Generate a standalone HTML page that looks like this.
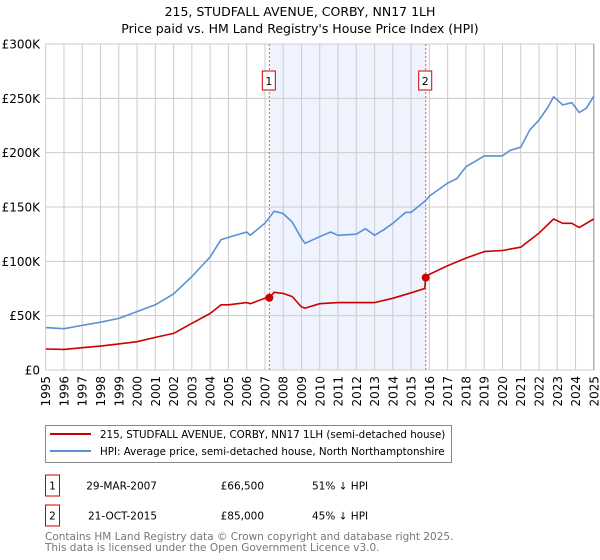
<!DOCTYPE html>
<html><head><meta charset="utf-8"><style>
body{margin:0;background:#fff;font-family:"Liberation Sans","DejaVu Sans",sans-serif;}
#wrap{position:relative;width:600px;height:560px;overflow:hidden;}
svg text{font-family:"DejaVu Sans","Liberation Sans",sans-serif;}
</style></head><body>
<div id="wrap">
<svg id="chart" width="600" height="560"></svg>
</div>
<script>
const yearTicks=[1995,1996,1997,1998,1999,2000,2001,2002,2003,2004,2005,2006,2007,2008,2009,2010,2011,2012,2013,2014,2015,2016,2017,2018,2019,2020,2021,2022,2023,2024,2025];
const valueTicks=[0,50,100,150,200,250,300];
const valueTickLabels=["£0","£50K","£100K","£150K","£200K","£250K","£300K"];
const hpiYears=[1995,1996,1997,1998,1999,2000,2001,2002,2003,2004,2004.6,2005,2006,2006.2,2007,2007.5,2008,2008.5,2009,2009.2,2010,2010.6,2011,2012,2012.5,2013,2013.5,2014,2014.7,2015,2015.8,2016,2017,2017.5,2018,2018.6,2019,2020,2020.4,2021,2021.5,2022,2022.5,2022.8,2023.3,2023.8,2024.2,2024.6,2025];
const hpiValues=[39,38,41,44,47.5,53.7,60,70,86,104,120,122,127,124,135,146,144,136,121,116.6,122.7,127,124,125,130,124,129,135,145,145,156,160,172,176,187,193,197,197,202,205,221,230,242,251.5,244,246,237,241,252];
const priceYears=[1995,1996,1997,1998,1999,2000,2001,2002,2003,2004,2004.6,2005,2006,2006.2,2007,2007.24,2007.5,2008,2008.5,2009,2009.2,2010,2011,2012,2013,2014,2015,2015.75,2015.8,2016,2017,2018,2019,2020,2021,2022,2022.8,2023.3,2023.8,2024.2,2025];
const priceValues=[19.3,19,20.5,22,24,26,30,33.7,43,52,60,60,62,61,66,66.5,71.5,70.5,67.5,58,57,61,62,62,62,66,71,75,85,88,96,103,109,110,113,126,139,135,135,131,139];
const saleYears=[2007.24,2015.8];
const saleValues=[66.5,85];
const saleLabels=["1","2"];

const NS="http://www.w3.org/2000/svg";
const svg=document.getElementById('chart');
const X0=45.7,X1=593.8,Y0=370,Y1=44;
const xs=y=>X0+(y-1995)/30*(X1-X0);
const ys=v=>Y0-v/300*(Y0-Y1);
function mk(tag,attrs,parent){const e=document.createElementNS(NS,tag);for(const k in attrs)e.setAttribute(k,attrs[k]);(parent||svg).appendChild(e);return e;}

let t=mk('text',{x:300,y:16,'text-anchor':'middle','font-size':12.5,fill:'#000'});t.textContent="215, STUDFALL AVENUE, CORBY, NN17 1LH";


t=mk('text',{x:300,y:33,'text-anchor':'middle','font-size':12.5,fill:'#000'});t.textContent="Price paid vs. HM Land Registry's House Price Index (HPI)";



let sh=mk('rect',{x:xs(saleYears[0]),y:Y1,width:xs(saleYears[1])-xs(saleYears[0]),height:Y0-Y1,fill:'#eef3fd'});



yearTicks.forEach(yr=>{
  const l=mk('line',{x1:xs(yr),x2:xs(yr),y1:Y1,y2:Y0,stroke:'#cccccc','stroke-width':1});
  
  
  const tx=mk('text',{transform:`translate(${xs(yr)+4.5},${Y0+6}) rotate(-90)`,'text-anchor':'end','font-size':12,fill:'#000'});
  tx.textContent=yr;
  
  
});
valueTicks.forEach((v,i)=>{
  const l=mk('line',{x1:X0,x2:X1,y1:ys(v),y2:ys(v),stroke:'#cccccc','stroke-width':1});
  
  
  const tx=mk('text',{x:40,y:ys(v)+4.5,'text-anchor':'end','font-size':12,fill:'#000'});
  tx.textContent=valueTickLabels[i];
  
  
});
let ra=mk('line',{x1:X1,x2:X1,y1:Y1,y2:Y0,stroke:'#999','stroke-width':1});



saleYears.forEach((yr,i)=>{
  const l=mk('line',{x1:xs(yr),x2:xs(yr),y1:Y1,y2:Y0,stroke:'#e06060','stroke-width':1,'stroke-dasharray':'2,2'});
  
  
  const b=mk('rect',{x:xs(yr)-7,y:71,width:13,height:19,fill:'#fff',stroke:'#cc0000','stroke-width':1});
  
  
  const tx=mk('text',{x:xs(yr)-0.5,y:85,'text-anchor':'middle','font-size':11,fill:'#000'});
  tx.textContent=saleLabels[i];
  
  
});

function line(xsA,vsA,color,name){
  const d=xsA.map((x,i)=>(i?'L':'M')+xs(x).toFixed(1)+','+ys(vsA[i]).toFixed(1)).join('');
  const p=mk('path',{d:d,fill:'none',stroke:color,'stroke-width':1.6,'stroke-linejoin':'round'});
  
  
}
line(hpiYears,hpiValues,'#5b8fd6','hpi-line');
line(priceYears,priceValues,'#cc0000','price-paid-line');
saleYears.forEach((yr,i)=>{
  const c=mk('circle',{cx:xs(yr),cy:ys(saleValues[i]),r:4,fill:'#cc0000'});
  
  
});

// legend
let lg=mk('rect',{x:45.5,y:425.5,width:406,height:37,fill:'#fff',stroke:'#888','stroke-width':1});


[['#cc0000',434,'215, STUDFALL AVENUE, CORBY, NN17 1LH (semi-detached house)','legend-entry-price'],['#5b8fd6',451,'HPI: Average price, semi-detached house, North Northamptonshire','legend-entry-hpi']].forEach(a=>{
  const l=mk('line',{x1:50,x2:91,y1:a[1],y2:a[1],stroke:a[0],'stroke-width':2});
  
  
  const tx=mk('text',{x:100,y:a[1]+4,'font-size':10.3,fill:'#000'});
  tx.textContent=a[2];
  
  
});
// table
[['1','29-MAR-2007','£66,500','51% ↓ HPI',485.5],['2','21-OCT-2015','£85,000','45% ↓ HPI',515.5]].forEach(r=>{
  const b=mk('rect',{x:45.5,y:r[4]-10.5,width:14,height:21,fill:'#fff',stroke:'#cc0000','stroke-width':1});
  
  
  const cells=[[52.5,'middle',r[0]],[157,'end',r[1]],[264,'end',r[2]],[312,'start',r[3]]];
  cells.forEach(c=>{
    const tx=mk('text',{x:c[0],y:r[4]+4,'text-anchor':c[1],'font-size':10.5,fill:'#000'});
    tx.textContent=c[2];
    
    
  });
});
t=mk('text',{x:45,y:540,'font-size':10.5,fill:'#777'});t.textContent="Contains HM Land Registry data © Crown copyright and database right 2025.";


t=mk('text',{x:45,y:551,'font-size':10.5,fill:'#777'});t.textContent="This data is licensed under the Open Government Licence v3.0.";


</script>
</body></html>
